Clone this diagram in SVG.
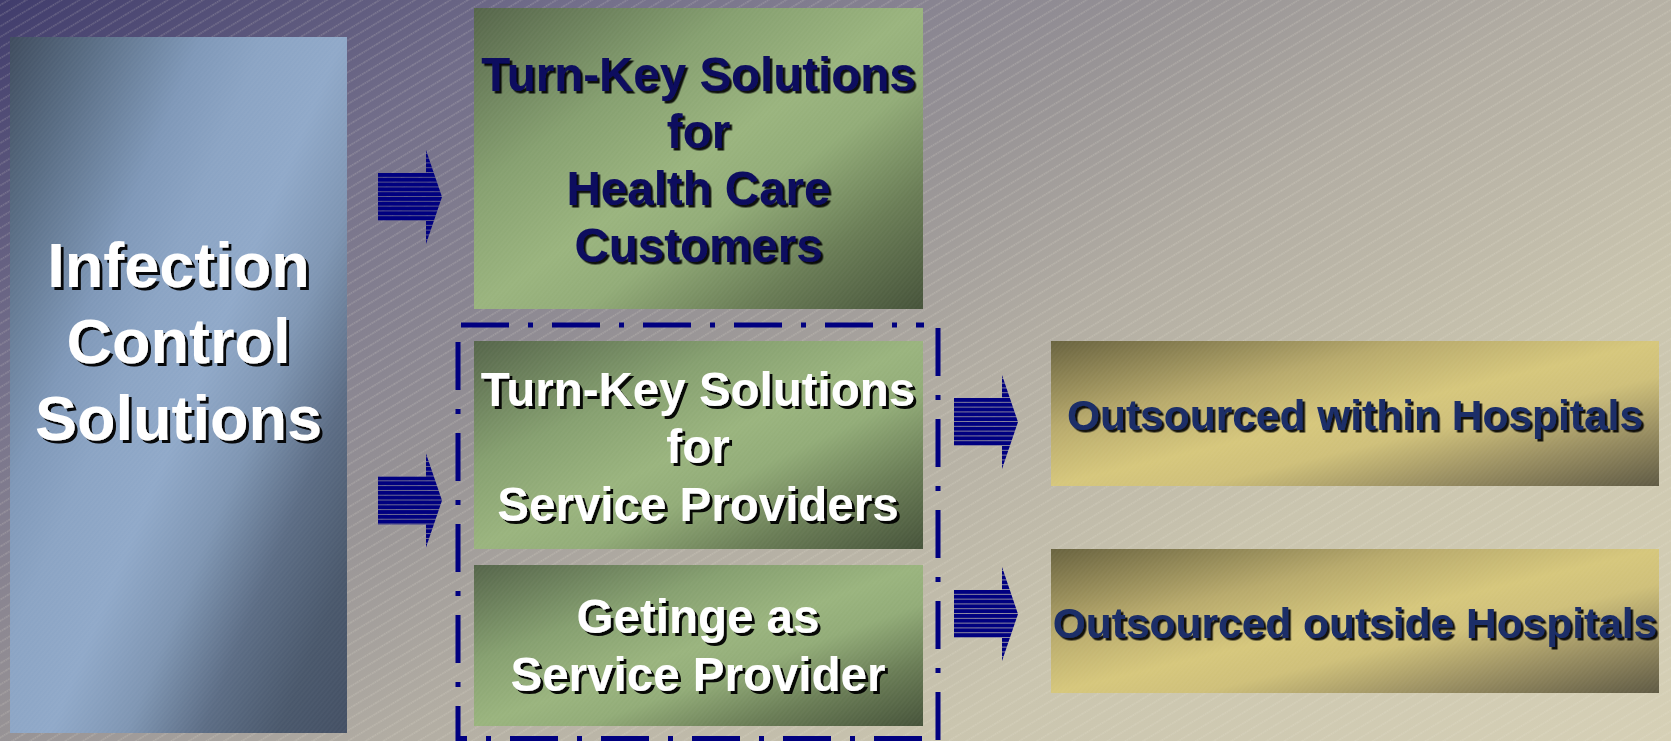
<svg xmlns="http://www.w3.org/2000/svg" width="1671" height="741" viewBox="0 0 1671 741">
  <defs>
    <linearGradient id="bg" gradientUnits="userSpaceOnUse" x1="0" y1="0" x2="802" y2="1284">
      <stop offset="0" stop-color="#403c6c"/>
      <stop offset="0.2" stop-color="#726e8a"/>
      <stop offset="0.42" stop-color="#989496"/>
      <stop offset="0.55" stop-color="#b2ada3"/>
      <stop offset="0.74" stop-color="#cac5af"/>
      <stop offset="1" stop-color="#d6d0b6"/>
    </linearGradient>
    <linearGradient id="blueG" gradientUnits="userSpaceOnUse" x1="0" y1="0" x2="557" y2="234">
      <stop offset="0.038" stop-color="#3f4c5e"/>
      <stop offset="0.166" stop-color="#596d84"/>
      <stop offset="0.331" stop-color="#7f98b8"/>
      <stop offset="0.43" stop-color="#8ba4c4"/>
      <stop offset="0.546" stop-color="#90a9c9"/>
      <stop offset="0.662" stop-color="#7f96b3"/>
      <stop offset="0.778" stop-color="#5c6d85"/>
      <stop offset="0.894" stop-color="#4a586c"/>
      <stop offset="1" stop-color="#445064"/>
    </linearGradient>
    <linearGradient id="greenG" x1="0" y1="0" x2="1" y2="1">
      <stop offset="0" stop-color="#55654a"/>
      <stop offset="0.3" stop-color="#86a070"/>
      <stop offset="0.5" stop-color="#9ab47e"/>
      <stop offset="0.62" stop-color="#92ac78"/>
      <stop offset="0.8" stop-color="#6a7d56"/>
      <stop offset="1" stop-color="#46533a"/>
    </linearGradient>
    <linearGradient id="goldG" x1="0" y1="0" x2="1" y2="1">
      <stop offset="0" stop-color="#69633f"/>
      <stop offset="0.3" stop-color="#b8aa6c"/>
      <stop offset="0.5" stop-color="#d6c77c"/>
      <stop offset="0.62" stop-color="#cfc07a"/>
      <stop offset="0.8" stop-color="#9a8f62"/>
      <stop offset="1" stop-color="#5f5a44"/>
    </linearGradient>
    <pattern id="hatch" patternUnits="userSpaceOnUse" width="20" height="9.1" patternTransform="rotate(-31)">
      <line x1="0" y1="4.5" x2="20" y2="4.5" stroke="#eeeadb" stroke-width="0.8" stroke-opacity="0.42" stroke-dasharray="1.6 0.8"/>
    </pattern>
    <pattern id="fine" patternUnits="userSpaceOnUse" width="10" height="3.5" patternTransform="rotate(-50)">
      <line x1="0" y1="1.75" x2="10" y2="1.75" stroke="#ffffff" stroke-width="0.6" stroke-opacity="0.08"/>
    </pattern>
    <pattern id="stripes" patternUnits="userSpaceOnUse" x="0" y="-24" width="10" height="4.8">
      <rect x="0" y="0" width="10" height="4.1" fill="#000080"/>
    </pattern>
    <filter id="shadowW" x="-5%" y="-5%" width="115%" height="120%">
      <feDropShadow dx="3" dy="3" stdDeviation="0.4" flood-color="#000000" flood-opacity="0.95"/>
    </filter>
    <filter id="shadowN" x="-5%" y="-5%" width="115%" height="120%">
      <feDropShadow dx="2.5" dy="2.5" stdDeviation="0.4" flood-color="#000000" flood-opacity="0.9"/>
    </filter>
    <path id="arrowShape" d="M0,-24 H48 V-47 L64,0 L48,47 V24 H0 Z"/>
  </defs>
  <style>
    .lbl { font-family: "Liberation Sans", Arial, sans-serif; font-weight: bold; text-anchor: middle; }
    .white { fill: #ffffff; filter: url(#shadowW); }
    .navy { fill: #0b0b5e; filter: url(#shadowN); }
    .navy2 { fill: #1a2d68; filter: url(#shadowN); }
    .arrow { fill: url(#stripes); }
    .frame { fill: none; stroke: #000080; stroke-width: 5; stroke-dasharray: 48 19 5 19; }
  </style>

  <rect x="0" y="0" width="1671" height="741" fill="url(#bg)"/>
  <rect x="0" y="0" width="1671" height="741" fill="url(#hatch)"/>

  <g id="node-infection">
    <rect x="10" y="37" width="337" height="696" fill="url(#blueG)"/>
    <rect x="10" y="37" width="337" height="696" fill="url(#fine)"/>
    <text class="lbl white" font-size="63" x="178.5" y="287">Infection</text>
    <text class="lbl white" font-size="63" x="178.5" y="363">Control</text>
    <text class="lbl white" font-size="63" x="178.5" y="440">Solutions</text>
  </g>

  <g id="node-healthcare">
    <rect x="474" y="8" width="449" height="301" fill="url(#greenG)"/>
    <rect x="474" y="8" width="449" height="301" fill="url(#fine)"/>
    <text class="lbl navy" font-size="47.5" x="698.5" y="91">Turn-Key Solutions</text>
    <text class="lbl navy" font-size="47.5" x="698.5" y="148">for</text>
    <text class="lbl navy" font-size="47.5" x="698.5" y="205">Health Care</text>
    <text class="lbl navy" font-size="47.5" x="698.5" y="262">Customers</text>
  </g>

  <g id="group-frame">
    <line class="frame" x1="461" y1="325" x2="924" y2="325"/>
    <line class="frame" x1="938" y1="328" x2="938" y2="741"/>
    <line class="frame" x1="458" y1="342" x2="458" y2="741"/>
    <line class="frame" x1="456" y1="738.5" x2="938" y2="738.5" stroke-dashoffset="37"/>
  </g>

  <g id="node-serviceproviders">
    <rect x="474" y="341" width="449" height="208" fill="url(#greenG)"/>
    <rect x="474" y="341" width="449" height="208" fill="url(#fine)"/>
    <text class="lbl white" font-size="47.5" x="698" y="406">Turn-Key Solutions</text>
    <text class="lbl white" font-size="47.5" x="698" y="463">for</text>
    <text class="lbl white" font-size="47.5" x="698" y="521">Service Providers</text>
  </g>

  <g id="node-getinge">
    <rect x="474" y="565" width="449" height="161" fill="url(#greenG)"/>
    <rect x="474" y="565" width="449" height="161" fill="url(#fine)"/>
    <text class="lbl white" font-size="47.5" x="698" y="633">Getinge as</text>
    <text class="lbl white" font-size="47.5" x="698" y="691">Service Provider</text>
  </g>

  <g id="node-within">
    <rect x="1051" y="341" width="608" height="145" fill="url(#goldG)"/>
    <rect x="1051" y="341" width="608" height="145" fill="url(#fine)"/>
    <text class="lbl navy2" font-size="42.5" x="1355" y="430">Outsourced within Hospitals</text>
  </g>

  <g id="node-outside">
    <rect x="1051" y="549" width="608" height="144" fill="url(#goldG)"/>
    <rect x="1051" y="549" width="608" height="144" fill="url(#fine)"/>
    <text class="lbl navy2" font-size="42.5" x="1355" y="638">Outsourced outside Hospitals</text>
  </g>

  <g id="connectors">
    <use href="#arrowShape" class="arrow" transform="translate(378,197)"/>
    <use href="#arrowShape" class="arrow" transform="translate(378,500.5)"/>
    <use href="#arrowShape" class="arrow" transform="translate(954,422)"/>
    <use href="#arrowShape" class="arrow" transform="translate(954,614)"/>
  </g>
</svg>
